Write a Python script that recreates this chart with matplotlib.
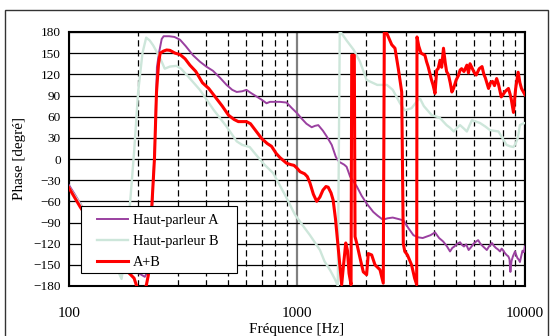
import numpy as np
import matplotlib
matplotlib.use("Agg")
import matplotlib.pyplot as plt
from matplotlib.patches import Rectangle
from matplotlib.ticker import FixedLocator, NullFormatter

plt.rcParams['font.family'] = 'serif'
plt.rcParams['font.serif'] = ['Liberation Serif', 'DejaVu Serif']

# phase response of speaker A, speaker B and their sum (Hz, degrees)
freq_a = [100, 106, 113, 130, 150, 175, 195, 205, 215, 225, 232, 238, 243, 248, 255, 260,
          275, 290, 307, 325, 350, 375, 400, 428, 460, 491, 520, 544, 575, 600, 625, 654,
          700, 735, 761, 800, 842, 900, 950, 1000, 1050, 1100, 1160, 1200, 1240, 1300, 1350,
          1420, 1480, 1530, 1570, 1610, 1650, 1710, 1770, 1830, 1920, 2020, 2160, 2250, 2380,
          2500, 2630, 2780, 2930, 3080, 3240, 3400, 3560, 3700, 3850, 4030, 4200, 4380, 4550,
          4690, 4800, 4900, 5050, 5190, 5300, 5400, 5520, 5660, 5800, 5950, 6100, 6230, 6370,
          6500, 6650, 6800, 6950, 7160, 7300, 7450, 7600, 7770, 7900, 8000, 8150, 8300, 8450,
          8550, 8630, 8720, 8850, 9040, 9150, 9250, 9400, 9500, 9620, 9750, 9880, 10000]
phase_a = [-37, -50, -65, -95, -120, -145, -160, -163, -167, -155, -60, 20, 130, 150, 170, 174,
           174, 173, 169, 160, 147, 138, 131, 125, 115, 105, 98, 95, 96, 98, 94, 90,
           84, 79, 81, 81, 81, 80, 72, 65, 57, 50, 45, 47, 48, 40, 32,
           20, 3, -4, -6, -8, -11, -25, -32, -39, -52, -63, -75, -80, -86,
           -84, -83, -85, -87, -98, -108, -111, -112, -110, -108, -104, -112, -117, -124,
           -131, -126, -124, -120, -118, -122, -124, -121, -129, -125, -120, -117, -115, -120,
           -123, -126, -129, -124, -119, -123, -126, -128, -131, -127, -129, -133, -136, -138,
           -142, -160, -145, -138, -131, -136, -140, -143, -146, -138, -130, -132, -124]

freq_b = [100, 106, 113, 130, 150, 170, 180, 185, 193, 201, 210, 218, 226, 234, 251, 263,
          277, 296, 310, 333, 375, 430, 491, 544, 575, 620, 665, 720, 786, 886, 980, 1070,
          1140, 1261, 1320, 1400, 1470, 1510, 1540, 1570, 1650, 1770, 1889, 2020, 2250, 2480,
          2630, 2830, 2970, 3180, 3400, 3460, 3600, 3900, 4100, 4240, 4530, 4700, 4870, 5030,
          5190, 5400, 5560, 5700, 5850, 6100, 6350, 6700, 7020, 7300, 7650, 7950, 8300, 8600,
          8900, 9100, 9300, 9500, 9750, 10000]
phase_b = [-40, -52, -66, -95, -130, -170, -120, -65, 10, 95, 150, 172, 168, 161, 143, 128,
           131, 132, 128, 117, 98, 70, 46, 25, 20, 17, 5, -8, -20, -51, -79, -96,
           -108, -129, -145, -158, -171, -180, 180, 178, 168, 155, 138, 112, 105, 105,
           98, 79, 69, 72, 84, 86, 75, 62, 60, 58, 48, 44, 39, 44,
           48, 43, 39, 47, 55, 53, 51, 46, 41, 40, 39, 30, 20, 18,
           17, 22, 30, 48, 50, 51]

freq_ab = [100, 106, 112, 130, 150, 175, 193, 198, 208, 218, 223, 231, 237, 242, 247, 251,
           260, 268, 277, 292, 307, 323, 339, 360, 385, 410, 438, 470, 501, 530, 553, 600,
           625, 660, 700, 740, 773, 810, 842, 870, 900, 940, 970, 1000, 1031, 1080, 1110, 1140,
           1180, 1220, 1260, 1300, 1340, 1370, 1410, 1440, 1475, 1510, 1570, 1600, 1636, 1665,
           1691, 1726, 1738, 1784, 1797, 1827, 1889, 1953, 2020, 2054, 2126, 2198, 2312, 2390,
           2415, 2478, 2603, 2690, 2782, 2879, 2926, 2970, 3050, 3180, 3280, 3349, 3360, 3420,
           3500, 3640, 3700, 3760, 3890, 3950, 4030, 4100, 4160, 4240, 4310, 4390, 4470, 4530,
           4620, 4700, 4780, 4860, 4990, 5100, 5190, 5270, 5400, 5560, 5650, 5740, 5900, 6000,
           6110, 6300, 6480, 6600, 6700, 6920, 7050, 7200, 7350, 7510, 7650, 7870, 8000, 8200,
           8460, 8600, 8700, 8900, 9100, 9330, 9500, 9650, 9800, 10000]
phase_ab = [-41, -55, -68, -100, -130, -155, -169, -180, -190, -180, -164, -65, 0, 95, 135, 150,
            153, 154.5, 154, 150, 148, 142, 133, 124, 108, 100, 88, 75, 62, 56, 53, 53,
            50, 40, 29, 22, 18, 8, 2, -2, -6, -8, -9, -13, -18, -21, -25, -34,
            -50, -60, -54, -44, -39, -40, -48, -58, -85, -120, -178, -150, -119, -130,
            -162, -178, 147, 147, -110, -119, -140, -160, -164, -134, -136, -150, -157, -176,
            180, 178, 162, 157, 128, 95, -120, -131, -136, -150, -169, -178, 173, 160,
            150, 147, 138, 131, 112, 105, 93, 126, 128, 140, 130, 157, 136, 124,
            119, 108, 95, 100, 112, 118, 126, 128, 124, 133, 122, 135, 127, 122,
            119, 128, 131, 120, 115, 100, 108, 110, 104, 114, 106, 88, 91, 96,
            100, 92, 85, 66, 100, 123, 108, 100, 96, 91]

labels = ['Haut-parleur A', 'Haut-parleur B', 'A+B']
colors = ['#9a40a0', '#cde6da', '#ff0000']
widths = [1.4, 1.7, 2.2]

fig = plt.figure(figsize=(5.5, 3.36), dpi=100)
ax = fig.add_axes([69/550, 1 - 286/336, 456/550, 254/336])

series = [(freq_a, phase_a), (freq_b, phase_b), (freq_ab, phase_ab)]
lines = []
for (fx, py), lab, col, lw in zip(series, labels, colors, widths):
    ln, = ax.plot(fx, py, color=col, lw=lw, label=lab, zorder=3)
    lines.append(ln)

ax.set_xscale('log')
ax.set_xlim(100, 10000)
ax.set_ylim(-180, 180)
ax.set_yticks(np.arange(-180, 181, 30))
ax.set_xticks([100, 1000, 10000])
ax.set_xticklabels(['100', '1000', '10000'])
minor = [m * d for d in (100, 1000) for m in range(2, 10)]
ax.xaxis.set_minor_locator(FixedLocator(minor))
ax.xaxis.set_minor_formatter(NullFormatter())

ax.grid(axis='y', color='black', lw=0.9, zorder=1)
ax.grid(axis='x', which='major', color='#808080', lw=1.6, zorder=1)
ax.grid(axis='x', which='minor', color='black', lw=0.9, linestyle=(0, (5, 3)), zorder=1)
ax.set_axisbelow(True)

ax.tick_params(axis='both', which='both', length=0)
ax.tick_params(axis='x', pad=15, labelsize=11)
ax.tick_params(axis='y', pad=6, labelsize=9.5)
for sp in ax.spines.values():
    sp.set_linewidth(1.5)
    sp.set_color('black')

ax.set_xlabel('Fréquence [Hz]', fontsize=11, labelpad=2)
ax.set_ylabel('Phase [degré]', fontsize=11, labelpad=5)

# legend box
ax.add_patch(Rectangle((0.0257, 0.0524), 0.3433, 0.2636, transform=ax.transAxes,
                       facecolor='white', edgecolor='black', lw=0.8, zorder=4))
ax.legend(lines, labels, loc='upper left', bbox_to_anchor=(0.062, 0.282),
          frameon=False, fontsize=10.3, handlelength=2.15, handletextpad=0.35,
          labelspacing=0.56, borderpad=0, borderaxespad=0).set_zorder(5)

# chart border, open at the bottom edge of the image
fig.patches.append(Rectangle((5/550, -0.01), 543/550, 1.01 - 10/336, transform=fig.transFigure,
                             fill=False, edgecolor='#333333', lw=1.0))

fig.savefig('out.png', dpi=100)
